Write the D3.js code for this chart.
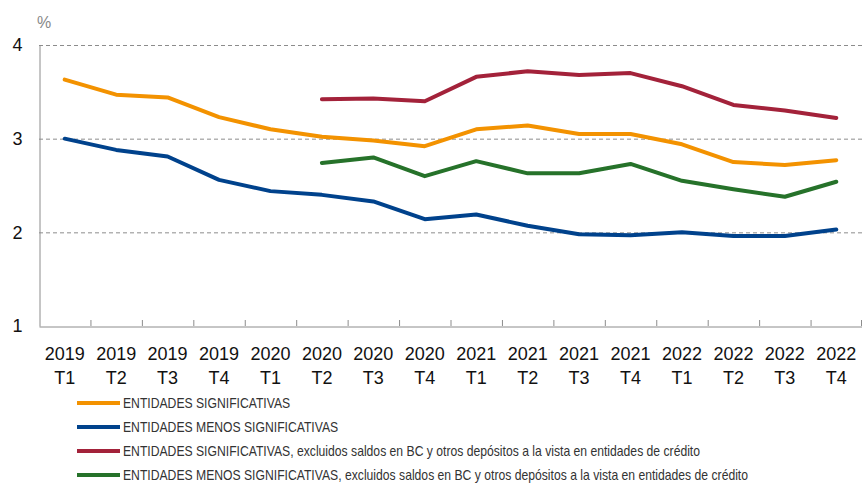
<!DOCTYPE html>
<html>
<head>
<meta charset="utf-8">
<script src="https://cdn.jsdelivr.net/npm/d3@7"></script>
<style>
  body { margin: 0; background: #fff; }
  svg { display: block; font-family: "Liberation Sans", Arial, sans-serif; }
</style>
</head>
<body>
<div id="chart"></div>
<script>
// data
const years = ["2019", "2019", "2019", "2019", "2020", "2020", "2020", "2020",
               "2021", "2021", "2021", "2021", "2022", "2022", "2022", "2022"];
const quarters = ["T1", "T2", "T3", "T4", "T1", "T2", "T3", "T4",
                  "T1", "T2", "T3", "T4", "T1", "T2", "T3", "T4"];
const periods = years.map((y, i) => y + " " + quarters[i]);

const significativas = [3.63, 3.47, 3.44, 3.23, 3.10, 3.02, 2.98, 2.92,
                        3.10, 3.14, 3.05, 3.05, 2.94, 2.75, 2.72, 2.77];
const menosSignificativas = [3.00, 2.88, 2.81, 2.56, 2.44, 2.40, 2.33, 2.14,
                             2.19, 2.07, 1.98, 1.97, 2.00, 1.96, 1.96, 2.03];
const significativasExcl = [null, null, null, null, null, 3.42, 3.43, 3.40,
                            3.66, 3.72, 3.68, 3.70, 3.56, 3.36, 3.30, 3.22];
const menosSignificativasExcl = [null, null, null, null, null, 2.74, 2.80, 2.60,
                                 2.76, 2.63, 2.63, 2.73, 2.55, 2.46, 2.38, 2.54];

const seriesNames = [
  "ENTIDADES SIGNIFICATIVAS",
  "ENTIDADES MENOS SIGNIFICATIVAS",
  "ENTIDADES SIGNIFICATIVAS, excluidos saldos en BC y otros depósitos a la vista en entidades de crédito",
  "ENTIDADES MENOS SIGNIFICATIVAS, excluidos saldos en BC y otros depósitos a la vista en entidades de crédito"
];
const seriesValues = [significativas, menosSignificativas, significativasExcl, menosSignificativasExcl];
const seriesColors = ["#f39200", "#00428c", "#a3223a", "#26722a"];
const yTicks = [1, 2, 3, 4];

// frame
const WIDTH = 862, HEIGHT = 486;
const MARGINS = {left: 39, right: 0, top: 45, bottom: 160};

const svg = d3.select("#chart").append("svg")
    .attr("width", WIDTH)
    .attr("height", HEIGHT);

const X_SCALE = d3.scaleBand()
    .domain(periods)
    .range([MARGINS.left, WIDTH - MARGINS.right]);

const Y_SCALE = d3.scaleLinear()
    .domain([1, 4])
    .range([HEIGHT - MARGINS.bottom, MARGINS.top]);

// gridlines
svg.append("g")
  .selectAll("line")
  .data(yTicks.filter(d => d > 1))
  .enter().append("line")
    .attr("x1", MARGINS.left)
    .attr("x2", WIDTH - MARGINS.right)
    .attr("y1", d => Y_SCALE(d) + 0.5)
    .attr("y2", d => Y_SCALE(d) + 0.5)
    .attr("stroke", "#8c8c8c")
    .attr("stroke-width", 1)
    .attr("stroke-dasharray", "4,3");

// y axis
const yAxis = svg.append("g")
    .attr("transform", "translate(" + (MARGINS.left + 0.5) + ",0)")
    .call(d3.axisLeft(Y_SCALE).tickValues(yTicks).tickFormat(d3.format("d"))
      .tickSize(0).tickPadding(17));
yAxis.select(".domain").attr("stroke", "#8c8c8c");
yAxis.selectAll("text")
    .attr("font-size", "18px")
    .attr("fill", "#111")
    .attr("font-family", "Liberation Sans, Arial, sans-serif");

svg.append("text")
    .attr("x", MARGINS.left - 2)
    .attr("y", 28)
    .attr("font-size", "16px")
    .attr("fill", "#888")
    .text("%");

// x axis
const xAxis = svg.append("g")
    .attr("transform", "translate(0," + (Y_SCALE(1) + 0.5) + ")")
    .call(d3.axisBottom(X_SCALE).tickSize(0).tickFormat(""));
xAxis.select(".domain").attr("stroke", "#8c8c8c");

// ticks between categories, pointing up
svg.append("g")
  .selectAll("line")
  .data(periods.slice(1).concat(["end"]))
  .enter().append("line")
    .attr("x1", d => (d === "end" ? X_SCALE.range()[1] - 0.5 : X_SCALE(d) + 0.5))
    .attr("x2", d => (d === "end" ? X_SCALE.range()[1] - 0.5 : X_SCALE(d) + 0.5))
    .attr("y1", Y_SCALE(1))
    .attr("y2", Y_SCALE(1) - 6)
    .attr("stroke", "#8c8c8c");

const labels = svg.append("g")
  .selectAll("text")
  .data(periods)
  .enter().append("text")
    .attr("x", d => X_SCALE(d) + X_SCALE.bandwidth() / 2)
    .attr("text-anchor", "middle")
    .attr("font-size", "18px")
    .attr("fill", "#111");
labels.append("tspan")
    .attr("x", d => X_SCALE(d) + X_SCALE.bandwidth() / 2)
    .attr("y", 360)
    .text((d, i) => years[i]);
labels.append("tspan")
    .attr("x", d => X_SCALE(d) + X_SCALE.bandwidth() / 2)
    .attr("y", 384)
    .text((d, i) => quarters[i]);

// lines
const line = d3.line()
    .defined(d => d.v !== null)
    .x(d => X_SCALE(d.p) + X_SCALE.bandwidth() / 2)
    .y(d => Y_SCALE(d.v));

seriesValues.forEach((vals, k) => {
  svg.append("path")
      .datum(vals.map((v, i) => ({p: periods[i], v: v})))
      .attr("d", line)
      .attr("fill", "none")
      .attr("stroke", seriesColors[k])
      .attr("stroke-width", 4)
      .attr("stroke-linejoin", "round")
      .attr("stroke-linecap", "round");
});

// legend (narrow type, squeezed horizontally)
const legend = svg.append("g")
  .selectAll("g")
  .data(seriesNames)
  .enter().append("g")
    .attr("transform", (d, i) => "translate(77," + (403 + i * 24) + ")");
legend.append("line")
    .attr("x1", 0)
    .attr("x2", 43)
    .attr("stroke", (d, i) => seriesColors[i])
    .attr("stroke-width", 4);
legend.append("text")
    .attr("transform", "translate(46,5) scale(0.84,1)")
    .attr("font-size", "14.5px")
    .attr("fill", "#333")
    .text(d => d);
</script>
</body>
</html>
